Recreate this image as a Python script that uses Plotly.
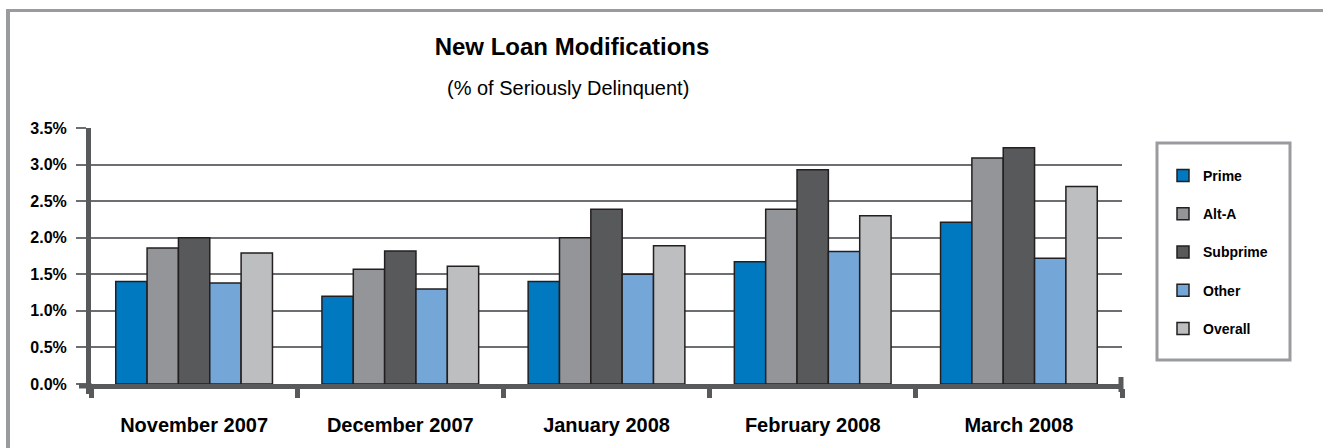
import plotly.graph_objects as go

# ---- data ----
categories = ["November 2007", "December 2007", "January 2008", "February 2008", "March 2008"]
prime = [1.40, 1.20, 1.40, 1.67, 2.21]
alt_a = [1.86, 1.57, 2.00, 2.39, 3.09]
subprime = [2.00, 1.82, 2.39, 2.93, 3.23]
other = [1.38, 1.30, 1.50, 1.81, 1.72]
overall = [1.79, 1.61, 1.89, 2.30, 2.70]
series_names = ["Prime", "Alt-A", "Subprime", "Other", "Overall"]
series_values = [prime, alt_a, subprime, other, overall]
series_colors = ["#0079c1", "#939598", "#58595b", "#74a7d8", "#bcbec0"]
y_ticks = [0.0, 0.5, 1.0, 1.5, 2.0, 2.5, 3.0, 3.5]
y_tick_labels = ["0.0%", "0.5%", "1.0%", "1.5%", "2.0%", "2.5%", "3.0%", "3.5%"]

W, H = 1323, 448
L, R, T, B = 91, 201, 128, 64
PW, PH = W - L - R, H - T - B

def px(x):
    return (x - L) / PW

def py(y):
    return (H - B - y) / PH

AXC = "#58595b"
FONT = "Liberation Sans, Arial, Helvetica, sans-serif"

fig = go.Figure()
for i, (name, vals, col) in enumerate(zip(series_names, series_values, series_colors)):
    fig.add_trace(go.Bar(
        x=categories, y=vals, name=name, legendgroup=name,
        marker=dict(color=col, line=dict(color="#231f20", width=1.5)),
    ))

shapes = [
    # outer frame (top and left)
    dict(type="line", xref="paper", yref="paper", x0=px(6), x1=px(1323), y0=py(10.5), y1=py(10.5),
         line=dict(color="#9a9b9e", width=3)),
    dict(type="line", xref="paper", yref="paper", x0=px(8), x1=px(8), y0=py(9), y1=py(448),
         line=dict(color="#9a9b9e", width=4)),
    # x axis extension to the left
    dict(type="line", xref="paper", yref="paper", x0=px(79), x1=px(92), y0=py(386), y1=py(386),
         line=dict(color=AXC, width=5)),
    # y axis extension below
    dict(type="line", xref="paper", yref="paper", x0=px(88.5), x1=px(88.5), y0=py(384), y1=py(394),
         line=dict(color=AXC, width=5)),
    # end cap at right
    dict(type="line", xref="paper", yref="paper", x0=px(1121), x1=px(1121), y0=py(377), y1=py(392),
         line=dict(color=AXC, width=5)),
    # legend box
    dict(type="rect", xref="paper", yref="paper", x0=px(1157), x1=px(1290), y0=py(143), y1=py(360),
         line=dict(color="#9a9b9e", width=3), fillcolor="rgba(0,0,0,0)"),
]

fig.update_layout(
    width=W, height=H,
    margin=dict(l=L, r=R, t=T, b=B, autoexpand=False),
    paper_bgcolor="white", plot_bgcolor="white",
    font=dict(family=FONT, color="#000000"),
    barmode="group", bargap=0.24, bargroupgap=0,
    title=dict(text="New Loan Modifications", xref="container", yref="container",
               x=572 / W, y=1 - 47 / H, xanchor="center", yanchor="middle",
               font=dict(size=24, weight="bold", family=FONT, color="#000")),
    annotations=[dict(text="(% of Seriously Delinquent)", xref="paper", yref="paper",
                      x=px(568), y=py(88), xanchor="center", yanchor="middle", showarrow=False,
                      font=dict(size=20, family=FONT, color="#000"))],
    showlegend=True,
    legend=dict(x=px(1163), y=py(160), xanchor="left", yanchor="top",
                bgcolor="rgba(0,0,0,0)", borderwidth=0, tracegroupgap=17,
                font=dict(size=14, weight="bold", family=FONT, color="#000")),
    shapes=shapes,
)

fig.update_yaxes(range=[0, 3.5], tickmode="array", tickvals=y_ticks, ticktext=y_tick_labels,
                 showgrid=True, gridcolor="#6d6e71", gridwidth=1.5, zeroline=False,
                 showline=True, linecolor=AXC, linewidth=5,
                 ticks="outside", ticklen=10, tickwidth=2, tickcolor="#6d6e71",
                 ticklabelstandoff=6,
                 tickfont=dict(size=16, weight="bold", family=FONT, color="#000"),
                 fixedrange=True)
fig.update_xaxes(showline=True, linecolor=AXC, linewidth=5, tickson="boundaries",
                 ticks="outside", ticklen=9, tickwidth=5, tickcolor=AXC,
                 ticklabelstandoff=19,
                 tickfont=dict(size=20, weight="bold", family=FONT, color="#000"),
                 showgrid=False, fixedrange=True)

fig.write_html("out.html", config={"displayModeBar": False},
               post_script="document.body.style.margin='0';document.body.style.overflow='hidden';")
